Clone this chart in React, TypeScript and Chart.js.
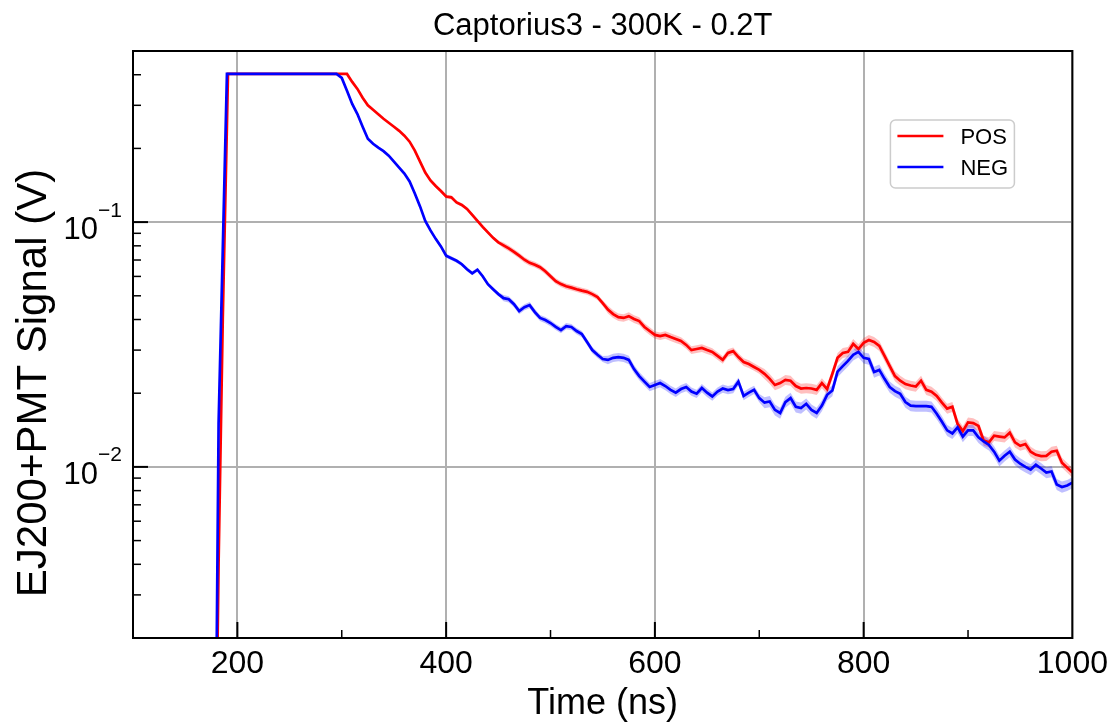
import React, { useEffect, useRef } from 'react';
import { Chart, registerables } from 'chart.js';

Chart.register(...registerables);

const FONT = '"Liberation Sans", Arial, sans-serif';

const chartTitle = 'Captorius3 - 300K - 0.2T';
const xAxisTitle = 'Time (ns)';
const yAxisTitle = 'EJ200+PMT Signal (V)';
const seriesNames = ['POS', 'NEG'];
const seriesColors = ['#ff0000', '#0000ff'];
const bandColors = ['rgba(255,0,0,0.25)', 'rgba(0,0,255,0.25)'];

const xMajorTicks = [200, 400, 600, 800, 1000];
const xMinorTicks = [100, 300, 500, 700, 900];
const yMajorTicks = [0.01, 0.1];
const yTickBase = ['10', '10'];
const yTickExponent = ['\u22122', '\u22121'];
const yMinorTicks = [0.002, 0.003, 0.004, 0.005, 0.006, 0.007, 0.008, 0.009,
  0.02, 0.03, 0.04, 0.05, 0.06, 0.07, 0.08, 0.09, 0.2, 0.3, 0.4, 0.5];

const timeNs = [179, 180, 182, 186, 190, 191, 200, 250,
  295, 300, 305, 310, 315, 320, 325, 330, 335, 340,
  345, 350, 355, 360, 365, 370, 375, 380, 385, 390,
  395, 400, 405, 410, 415, 420, 425, 430, 435, 440,
  445, 450, 455, 460, 465, 470, 475, 480, 485, 490,
  495, 500, 505, 510, 515, 520, 525, 530, 535, 540,
  545, 550, 555, 560, 565, 570, 575, 580, 585, 590,
  595, 600, 605, 610, 615, 620, 625, 630, 635, 640,
  645, 650, 655, 660, 665, 670, 675, 680, 685, 690,
  695, 700, 705, 710, 715, 720, 725, 730, 735, 740,
  745, 750, 755, 760, 765, 770, 775, 780, 785, 790,
  795, 800, 805, 810, 815, 820, 825, 830, 835, 840,
  845, 850, 855, 860, 865, 870, 875, 880, 885, 890,
  895, 900, 905, 910, 915, 920, 925, 930, 935, 940,
  945, 950, 955, 960, 965, 970, 975, 980, 985, 990,
  995, 1000];

const posSignal = [0.0008, 0.0009, 0.004, 0.04, 0.25, 0.403, 0.403, 0.403,
  0.403, 0.403, 0.403, 0.374, 0.350, 0.322, 0.300, 0.2875, 0.2757, 0.2644,
  0.2547, 0.2453, 0.236, 0.2254, 0.2131, 0.196, 0.1767, 0.1593, 0.148, 0.1404,
  0.134, 0.1272, 0.1262, 0.1203, 0.1175, 0.1132, 0.107, 0.1011, 0.0956, 0.0908,
  0.0862, 0.0827, 0.0804, 0.0781, 0.0756, 0.0729, 0.0702, 0.0682, 0.0670, 0.0654,
  0.0630, 0.0601, 0.0574, 0.0558, 0.0547, 0.0540, 0.0532, 0.0525, 0.0519, 0.0508,
  0.0494, 0.0467, 0.0439, 0.0421, 0.0409, 0.0406, 0.0413, 0.0402, 0.0394, 0.0373,
  0.0359, 0.0346, 0.0342, 0.0346, 0.0339, 0.0333, 0.0327, 0.0315, 0.0300, 0.0303,
  0.0306, 0.0300, 0.0295, 0.0284, 0.02735, 0.0292, 0.0297, 0.0281, 0.0268, 0.0263,
  0.0256, 0.0249, 0.0240, 0.0229, 0.0216, 0.0220, 0.02267, 0.0225, 0.0214, 0.0209,
  0.0210, 0.0209, 0.02064, 0.0220, 0.0208, 0.0240, 0.0279, 0.0292, 0.0295, 0.0318,
  0.0303, 0.0321, 0.0330, 0.0324, 0.0312, 0.0284, 0.0258, 0.0235, 0.0225, 0.0218,
  0.0215, 0.0213, 0.0225, 0.02064, 0.0203, 0.0195, 0.0183, 0.0173, 0.0176, 0.0150,
  0.0140, 0.0152, 0.0151, 0.0147, 0.0128, 0.0126, 0.0134, 0.0133, 0.0132, 0.0138,
  0.0126, 0.0122, 0.0124, 0.01154, 0.0112, 0.01107, 0.0111, 0.01154, 0.01165, 0.0104,
  0.00993, 0.00948];

const negSignal = [0.0009, 0.0015, 0.015, 0.077, 0.403, 0.403, 0.403, 0.403,
  0.403, 0.388, 0.344, 0.304, 0.2764, 0.2453, 0.2192, 0.209, 0.2014, 0.195,
  0.1869, 0.1767, 0.167, 0.1579, 0.1465, 0.1309, 0.1159, 0.1011, 0.0925, 0.0854,
  0.0796, 0.0729, 0.0712, 0.0695, 0.0673, 0.0642, 0.0618, 0.0639, 0.0601, 0.0558,
  0.0532, 0.0508, 0.0489, 0.0484, 0.0462, 0.0433, 0.0449, 0.0458, 0.0429, 0.0406,
  0.0398, 0.0387, 0.0373, 0.0362, 0.0376, 0.0373, 0.0359, 0.0349, 0.0324, 0.0300,
  0.0287, 0.0276, 0.02735, 0.0279, 0.0281, 0.0279, 0.02735, 0.0251, 0.0235, 0.0223,
  0.0212, 0.0216, 0.0220, 0.0214, 0.02064, 0.0201, 0.0208, 0.0212, 0.0203, 0.0199,
  0.0210, 0.0201, 0.0194, 0.0203, 0.0209, 0.0206, 0.0208, 0.0223, 0.0195, 0.0201,
  0.02064, 0.0191, 0.0183, 0.0185, 0.0171, 0.0166, 0.0184, 0.0191, 0.0176, 0.0174,
  0.0181, 0.0171, 0.0166, 0.0178, 0.0197, 0.0205, 0.0245, 0.0258, 0.0271, 0.0287,
  0.0295, 0.0279, 0.0276, 0.0244, 0.0249, 0.0229, 0.0212, 0.0204, 0.0199, 0.0184,
  0.0178, 0.0177, 0.0177, 0.0177, 0.0176, 0.0165, 0.0153, 0.0141, 0.0137, 0.0145,
  0.0133, 0.0141, 0.0141, 0.0132, 0.0127, 0.0123, 0.01154, 0.0106, 0.0111, 0.01154,
  0.01071, 0.0103, 0.0100, 0.00975, 0.0102, 0.00985, 0.00948, 0.00958, 0.00848, 0.00828,
  0.0084, 0.00863];

// relative uncertainty (half-width of the shaded band)
const posRelErr = [0.005, 0.005, 0.005, 0.005, 0.005, 0.005, 0.005, 0.005,
  0.007, 0.007, 0.007, 0.007, 0.007, 0.007, 0.007, 0.007, 0.007, 0.007,
  0.007, 0.007, 0.007, 0.007, 0.007, 0.007, 0.007, 0.007, 0.017, 0.017,
  0.017, 0.017, 0.017, 0.017, 0.017, 0.017, 0.017, 0.017, 0.017, 0.017,
  0.017, 0.017, 0.027, 0.027, 0.027, 0.027, 0.027, 0.027, 0.027, 0.027,
  0.027, 0.027, 0.027, 0.027, 0.027, 0.027, 0.027, 0.027, 0.027, 0.027,
  0.027, 0.027, 0.036, 0.036, 0.036, 0.036, 0.036, 0.036, 0.036, 0.036,
  0.036, 0.036, 0.036, 0.036, 0.036, 0.036, 0.036, 0.036, 0.036, 0.036,
  0.036, 0.036, 0.036, 0.036, 0.036, 0.036, 0.036, 0.036, 0.036, 0.036,
  0.036, 0.036, 0.047, 0.047, 0.047, 0.047, 0.047, 0.047, 0.047, 0.047,
  0.047, 0.047, 0.047, 0.047, 0.047, 0.047, 0.047, 0.047, 0.047, 0.047,
  0.047, 0.047, 0.047, 0.047, 0.047, 0.047, 0.047, 0.047, 0.047, 0.047,
  0.047, 0.047, 0.047, 0.047, 0.047, 0.047, 0.047, 0.047, 0.047, 0.047,
  0.047, 0.047, 0.047, 0.047, 0.047, 0.047, 0.047, 0.047, 0.047, 0.047,
  0.047, 0.047, 0.047, 0.047, 0.047, 0.047, 0.047, 0.047, 0.047, 0.047,
  0.047, 0.047];

const negRelErr = [0.005, 0.005, 0.005, 0.005, 0.005, 0.005, 0.005, 0.005,
  0.007, 0.007, 0.007, 0.007, 0.007, 0.007, 0.007, 0.007, 0.007, 0.007,
  0.007, 0.007, 0.007, 0.007, 0.007, 0.007, 0.007, 0.007, 0.018, 0.018,
  0.018, 0.018, 0.018, 0.018, 0.018, 0.018, 0.018, 0.018, 0.018, 0.018,
  0.018, 0.018, 0.029, 0.029, 0.029, 0.029, 0.029, 0.029, 0.029, 0.029,
  0.029, 0.029, 0.029, 0.029, 0.029, 0.029, 0.029, 0.029, 0.029, 0.029,
  0.029, 0.029, 0.039, 0.039, 0.039, 0.039, 0.039, 0.039, 0.039, 0.039,
  0.039, 0.039, 0.039, 0.039, 0.039, 0.039, 0.039, 0.039, 0.039, 0.039,
  0.039, 0.039, 0.039, 0.039, 0.039, 0.039, 0.039, 0.039, 0.039, 0.039,
  0.039, 0.039, 0.052, 0.052, 0.052, 0.052, 0.052, 0.052, 0.052, 0.052,
  0.052, 0.052, 0.052, 0.052, 0.052, 0.052, 0.052, 0.052, 0.052, 0.052,
  0.052, 0.052, 0.052, 0.052, 0.052, 0.052, 0.052, 0.052, 0.052, 0.052,
  0.052, 0.052, 0.052, 0.052, 0.052, 0.052, 0.052, 0.052, 0.052, 0.052,
  0.052, 0.052, 0.052, 0.052, 0.052, 0.052, 0.052, 0.052, 0.052, 0.052,
  0.052, 0.052, 0.052, 0.052, 0.052, 0.052, 0.052, 0.052, 0.052, 0.052,
  0.052, 0.052];

const decorPlugin = {
  id: 'decor',
  afterDatasetsDraw(chart: any) {
    const { ctx, chartArea } = chart;
    const { left, right, top, bottom } = chartArea;
    const xs = chart.scales.x;
    const ys = chart.scales.y;
    ctx.save();
    ctx.strokeStyle = '#000';
    ctx.lineCap = 'butt';
    const seg = (x1: number, y1: number, x2: number, y2: number) => {
      ctx.beginPath();
      ctx.moveTo(x1, y1);
      ctx.lineTo(x2, y2);
      ctx.stroke();
    };
    ctx.lineWidth = 2;
    yMajorTicks.forEach((v) => {
      const p = ys.getPixelForValue(v);
      seg(left, p, left + 15, p);
    });
    xMajorTicks.forEach((v) => {
      const p = xs.getPixelForValue(v);
      if (p < right - 1) seg(p, bottom, p, bottom - 16);
    });
    ctx.lineWidth = 1.5;
    yMinorTicks.forEach((v) => {
      const p = ys.getPixelForValue(v);
      if (p > top + 1 && p < bottom - 1) seg(left, p, left + 8, p);
    });
    xMinorTicks.forEach((v) => {
      const p = xs.getPixelForValue(v);
      if (p > left + 1 && p < right - 1) seg(p, bottom, p, bottom - 8);
    });
    ctx.lineWidth = 2;
    ctx.strokeRect(left, top, right - left, bottom - top);

    // y tick labels (10 with superscript exponent)
    ctx.fillStyle = '#000';
    ctx.textBaseline = 'alphabetic';
    yMajorTicks.forEach((v, i) => {
      const p = ys.getPixelForValue(v);
      ctx.font = `31px ${FONT}`;
      ctx.textAlign = 'right';
      ctx.fillText(yTickBase[i], left - 35, p + 17);
      ctx.font = `21px ${FONT}`;
      ctx.textAlign = 'left';
      ctx.fillText(yTickExponent[i], left - 35, p - 5.5);
    });

    // y axis title
    ctx.save();
    ctx.translate(left - 87.5, 383);
    ctx.rotate(-Math.PI / 2);
    ctx.font = `42px ${FONT}`;
    ctx.textAlign = 'center';
    ctx.textBaseline = 'alphabetic';
    ctx.fillText(yAxisTitle, 0, 0);
    ctx.restore();

    // legend
    const lx = right - 182;
    const ly = top + 69;
    const lw = 124;
    const lh = 68;
    ctx.beginPath();
    ctx.roundRect(lx, ly, lw, lh, 5);
    ctx.fillStyle = 'rgba(255,255,255,0.8)';
    ctx.fill();
    ctx.strokeStyle = '#cccccc';
    ctx.lineWidth = 1.5;
    ctx.stroke();
    seriesNames.forEach((name, i) => {
      const yy = ly + 16 + i * 31;
      ctx.strokeStyle = seriesColors[i];
      ctx.lineWidth = 2.5;
      seg(lx + 7, yy, lx + 53, yy);
      ctx.fillStyle = '#000';
      ctx.font = `22px ${FONT}`;
      ctx.textAlign = 'left';
      ctx.textBaseline = 'alphabetic';
      ctx.fillText(name, lx + 70, yy + 8);
    });
    ctx.restore();
  },
};

export default function App() {
  const canvasRef = useRef<HTMLCanvasElement>(null);

  useEffect(() => {
    const canvas = canvasRef.current;
    if (!canvas) return;
    const pts = (vals: number[]) => timeNs.map((t, i) => ({ x: t, y: vals[i] }));
    const band = (vals: number[], err: number[], sign: number) =>
      timeNs.map((t, i) => ({ x: t, y: vals[i] * (1 + sign * err[i]) }));

    const lineBase = { pointRadius: 0, borderWidth: 2.7, tension: 0, fill: false };
    const bandBase = { pointRadius: 0, borderWidth: 0, borderColor: 'transparent', tension: 0 };

    const chart = new Chart(canvas, {
      type: 'line',
      data: {
        datasets: [
          { ...lineBase, label: seriesNames[1], data: pts(negSignal), borderColor: seriesColors[1], order: 0 },
          { ...lineBase, label: seriesNames[0], data: pts(posSignal), borderColor: seriesColors[0], order: 1 },
          { ...bandBase, label: 'NEG upper', data: band(negSignal, negRelErr, 1), backgroundColor: bandColors[1], fill: '+1', order: 2 },
          { ...bandBase, label: 'NEG lower', data: band(negSignal, negRelErr, -1), fill: false, order: 2 },
          { ...bandBase, label: 'POS upper', data: band(posSignal, posRelErr, 1), backgroundColor: bandColors[0], fill: '+1', order: 3 },
          { ...bandBase, label: 'POS lower', data: band(posSignal, posRelErr, -1), fill: false, order: 3 },
        ] as any,
      },
      options: {
        animation: false,
        responsive: false,
        devicePixelRatio: 1,
        layout: { padding: { left: 0, right: 40, top: 0, bottom: 0 } },
        plugins: {
          legend: { display: false },
          tooltip: { enabled: false },
          title: {
            display: true,
            text: chartTitle,
            color: '#000',
            fullSize: false,
            font: { size: 31, family: FONT, weight: 'normal', lineHeight: 1.2 },
            padding: { top: 7.85, bottom: 5.95 },
          },
        },
        scales: {
          x: {
            type: 'linear',
            min: 100,
            max: 1000,
            bounds: 'data',
            afterBuildTicks: (s: any) => {
              s.ticks = xMajorTicks.map((v) => ({ value: v }));
            },
            afterFit: (s: any) => {
              s.height = 84;
            },
            grid: { color: '#b0b0b0', lineWidth: 2, drawTicks: false },
            border: { display: false },
            ticks: {
              color: '#000',
              font: { size: 32, family: FONT },
              padding: 7,
              maxRotation: 0,
              autoSkip: false,
              callback: (v: any) => String(v),
            },
            title: {
              display: true,
              text: xAxisTitle,
              color: '#000',
              font: { size: 36, family: FONT, lineHeight: 1 },
              padding: { top: 0, bottom: 0 },
            },
          },
          y: {
            type: 'logarithmic',
            min: 0.002,
            max: 0.5,
            bounds: 'data',
            afterBuildTicks: (s: any) => {
              s.ticks = yMajorTicks.map((v) => ({ value: v }));
            },
            afterFit: (s: any) => {
              s.width = 133;
            },
            grid: { color: '#b0b0b0', lineWidth: 2, drawTicks: false },
            border: { display: false },
            ticks: { display: false },
          },
        },
      } as any,
      plugins: [decorPlugin],
    });
    return () => chart.destroy();
  }, []);

  return (
    <div style={{ position: 'fixed', left: 0, top: 0, width: 1115, height: 722, background: '#fff' }}>
      <canvas ref={canvasRef} width={1115} height={722} style={{ width: 1115, height: 722, display: 'block' }} />
    </div>
  );
}
